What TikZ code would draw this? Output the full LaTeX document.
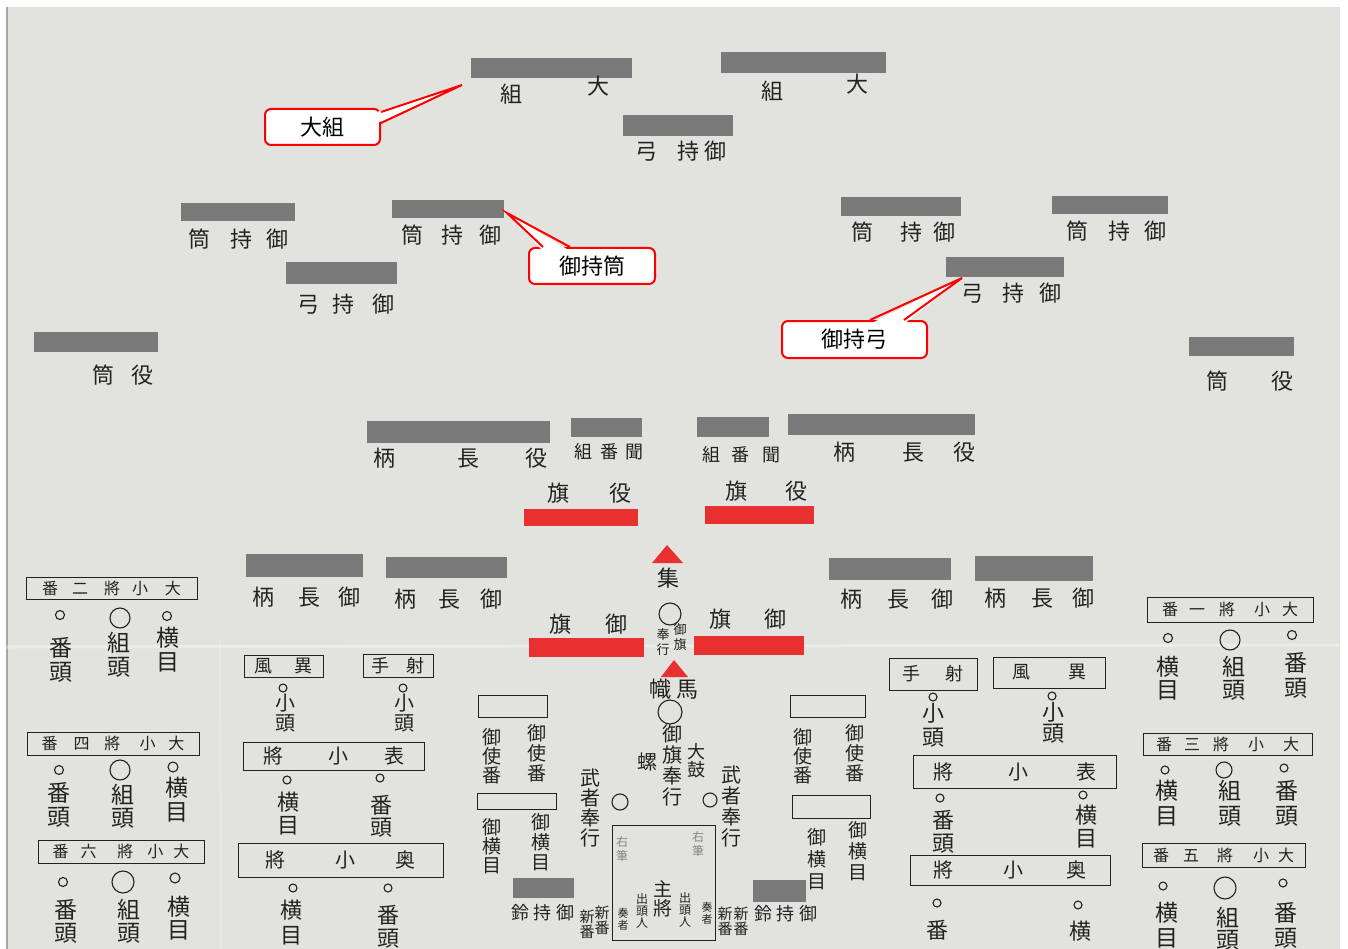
\documentclass[tikz,border=0pt]{standalone}
\usepackage{fontspec}
\newfontfamily\jpfont{Noto Sans CJK JP}
\usepackage{tikz}
\usetikzlibrary{calc}

\definecolor{paper}{RGB}{226,226,223}
\definecolor{ink}{RGB}{34,34,34}
\definecolor{barg}{RGB}{122,122,122}
\definecolor{flagred}{RGB}{232,48,48}
\definecolor{callred}{RGB}{255,0,0}

\begin{document}
\begin{tikzpicture}[
  x=1pt, y=-1pt,
  hz/.style={font=\jpfont\fontsize{#1}{#1}\selectfont, inner sep=0pt, text=ink},
  hz/.default=22,
  vt/.style 2 args={font=\jpfont\fontsize{#1}{#2}\selectfont, align=center,
    inner sep=0pt, text=ink},
  rankbox/.style={draw=ink, line width=0.8pt, inner sep=0pt, text=ink,
    font=\jpfont\fontsize{#1}{#1}\selectfont},
  rankbox/.default=16,
  plainbox/.style={draw=ink, line width=0.8pt},
  ring/.style={circle, draw=ink, line width=1.1pt, inner sep=0pt, minimum size=#1},
  inkbar/.style={fill=barg},
  redbar/.style={fill=flagred},
  labelbox/.style={draw=callred, line width=2pt, fill=white, rounded corners=6pt,
    inner sep=0pt, font=\jpfont\fontsize{22}{22}\selectfont},
  pointer/.style={draw=callred, line width=2pt, line join=miter}
]
\useasboundingbox (0,0) rectangle (1348,949);

% Paper
\fill[white] (0,0) rectangle (1348,949);
\fill[paper] (6,7) rectangle (1340,949);
\draw[black!35, line width=1.5pt] (7,7) -- (7,949);
\draw[white, opacity=0.35, line width=3pt] (6,647) -- (1340,645);
\draw[white, opacity=0.2, line width=2pt] (220,640) -- (221,949);

% Grey bars
\fill[inkbar] (471,58) rectangle (632,78);
\fill[inkbar] (721,52) rectangle (886,73);
\fill[inkbar] (623,115) rectangle (733,136);
\fill[inkbar] (181,203) rectangle (295,221);
\fill[inkbar] (392,200) rectangle (504,218);
\fill[inkbar] (286,262) rectangle (397,284);
\fill[inkbar] (841,197) rectangle (961,216);
\fill[inkbar] (1052,196) rectangle (1168,214);
\fill[inkbar] (946,257) rectangle (1064,277);
\fill[inkbar] (34,332) rectangle (158,352);
\fill[inkbar] (1189,337) rectangle (1294,356);
\fill[inkbar] (367,421) rectangle (550,443);
\fill[inkbar] (571,418) rectangle (642,437);
\fill[inkbar] (697,417) rectangle (769,437);
\fill[inkbar] (788,414) rectangle (975,435);
\fill[inkbar] (246,554) rectangle (363,577);
\fill[inkbar] (386,557) rectangle (507,578);
\fill[inkbar] (829,558) rectangle (951,580);
\fill[inkbar] (975,556) rectangle (1093,581);
\fill[inkbar] (513,878) rectangle (574,898);
\fill[inkbar] (753,880) rectangle (806,902);

% Red flag bars
\fill[redbar] (524,509) rectangle (638,526);
\fill[redbar] (705,506) rectangle (814,524);
\fill[redbar] (529,638) rectangle (644,657);
\fill[redbar] (694,636) rectangle (804,655);

% Top rows
\node[hz] (a1-kumi) at (511,94) {組};
\node[hz] (a1-dai) at (598,86) {大};
\node[hz] (a2-kumi) at (772,91) {組};
\node[hz] (a2-dai) at (857,84) {大};
\node[hz] (b-yumi) at (681,151) {弓\hspace{20pt}持\hspace{6pt}御};
\node[hz] (c1-tsutsu) at (238.5,239) {筒\hspace{21pt}持\hspace{14pt}御};
\node[hz] (c2-tsutsu) at (451.5,235) {筒\hspace{19pt}持\hspace{16pt}御};
\node[hz] (d-yumi) at (346,304) {弓\hspace{14pt}持\hspace{18pt}御};
\node[hz] (c3-tsutsu) at (903.5,232) {筒\hspace{27pt}持\hspace{12pt}御};
\node[hz] (c4-tsutsu) at (1116,231) {筒\hspace{20pt}持\hspace{14pt}御};
\node[hz] (e-yumi) at (1011,293) {弓\hspace{19pt}持\hspace{15pt}御};
\node[hz] (f1-yaku) at (123,375) {筒\hspace{18pt}役};
\node[hz] (f2-yaku) at (1249.5,381) {筒\hspace{43pt}役};

% Middle rows
\node[hz] (g1-nagae) at (460,458) {柄\hspace{62pt}長\hspace{46pt}役};
\node[hz=18] (g2-kikiban) at (609,452) {組\hspace{8pt}番\hspace{8pt}聞};
\node[hz=18] (g3-kikiban) at (741,455) {組\hspace{12pt}番\hspace{12pt}聞};
\node[hz] (g4-nagae) at (904,452) {柄\hspace{47pt}長\hspace{29pt}役};
\node[hz] (hata-l) at (589,493) {旗\hspace{40pt}役};
\node[hz] (hata-r) at (766.5,491) {旗\hspace{39pt}役};

\node[hz] (i1-nagae) at (306.5,597) {柄\hspace{25pt}長\hspace{18pt}御};
\node[hz] (i2-nagae) at (448.5,599) {柄\hspace{23pt}長\hspace{20pt}御};
\node[hz] (i3-nagae) at (896.5,599) {柄\hspace{25pt}長\hspace{22pt}御};
\node[hz] (i4-nagae) at (1039,598) {柄\hspace{26pt}長\hspace{18pt}御};

% Centre column
\fill[redbar] (652,563) -- (667,545) -- (683,563) -- cycle;
\node[hz] (atsume) at (668,578) {集};
\node[ring=22pt] (o-top) at (670,614) {};
\node[vt={13}{15}] (mihata-a) at (680,637.5) {御\\旗};
\node[vt={13}{15}] (bugyo-a) at (663,642.5) {奉\\行};
\node[hz] (hata-l2) at (588.5,624) {旗\hspace{35pt}御};
\node[hz] (hata-r2) at (747.5,619) {旗\hspace{33pt}御};
\fill[redbar] (661,677) -- (674,660) -- (688,677) -- cycle;
\node[hz] (nobori) at (674,689) {幟\hspace{6pt}馬};
\node[ring=24pt] (o-mid) at (670,712) {};
\node[vt={20}{21}] (hatabugyo) at (672,765) {御\\旗\\奉\\行};
\node[hz=20] (hora) at (647,762) {螺};
\node[vt={18}{18}] (taiko) at (696,761) {大\\鼓};
\node[vt={20}{20}] (musha-l) at (590,808) {武\\者\\奉\\行};
\node[vt={20}{21}] (musha-r) at (731,806.5) {武\\者\\奉\\行};
\node[ring=16pt] (o-l) at (620,802) {};
\node[ring=14pt] (o-r) at (710,800) {};

% Left of centre
\draw[plainbox] (478,695) rectangle (547,717);
\node[vt={19}{19}] (tsukai-l1) at (492,756.5) {御\\使\\番};
\node[vt={19}{20}] (tsukai-l2) at (537,753) {御\\使\\番};
\draw[plainbox] (477,793) rectangle (556,809);
\node[vt={19}{19}] (yokome-l1) at (492,846) {御\\横\\目};
\node[vt={19}{20}] (yokome-l2) at (541,842.5) {御\\横\\目};
\node[hz=18] (suzu-l) at (542.5,913) {鈴\hspace{5pt}持\hspace{4pt}御};
\node[vt={15}{15}] (shin-l1) at (587,924.5) {新\\番};
\node[vt={15}{15}] (shin-l2) at (602,920) {新\\番};

% Right of centre
\draw[plainbox] (790,695) rectangle (865,717);
\node[vt={19}{19}] (tsukai-r1) at (803,756) {御\\使\\番};
\node[vt={19}{20}] (tsukai-r2) at (855,753) {御\\使\\番};
\draw[plainbox] (792,795) rectangle (870,818);
\node[vt={19}{22}] (yokome-r1) at (817,859.5) {御\\横\\目};
\node[vt={19}{21}] (yokome-r2) at (858,851.5) {御\\横\\目};
\node[hz=18] (suzu-r) at (785.5,914) {鈴\hspace{4pt}持\hspace{5pt}御};
\node[vt={15}{15}] (shin-r1) at (725,921.5) {新\\番};
\node[vt={15}{15}] (shin-r2) at (741,921.5) {新\\番};

% Commander's box
\draw[plainbox] (612,825) rectangle (715,940);
\node[vt={12}{14}, text=ink!55] (yuhitsu-l) at (622,849) {右\\筆};
\node[vt={12}{14}, text=ink!55] (yuhitsu-r) at (698,843.5) {右\\筆};
\node[vt={19}{19}] (shusho) at (663,899) {主\\將};
\node[vt={12}{12}] (shuto-l) at (642,911) {出\\頭\\人};
\node[vt={12}{12}] (shuto-r) at (685,909.5) {出\\頭\\人};
\node[vt={11}{12}] (sosha-l) at (623,919) {奏\\者};
\node[vt={11}{12}] (sosha-r) at (707,913.5) {奏\\者};

% Left wing: daishosho 2, 4, 6
\node[rankbox, minimum width=171pt, minimum height=22pt] (sho2) at (111.5,588)
  {番\hspace{14pt}二\hspace{16pt}將\hspace{12pt}小\hspace{17pt}大};
\node[ring=9pt] (sho2-a) at (60,615) {};
\node[ring=20pt] (sho2-b) at (120,618) {};
\node[ring=9pt] (sho2-c) at (167,616) {};
\node[vt={23}{24}] (sho2-ban) at (61,660) {番\\頭};
\node[vt={23}{24}] (sho2-kumi) at (119,655) {組\\頭};
\node[vt={23}{24}] (sho2-yoko) at (168,650) {横\\目};

\node[rankbox, minimum width=172pt, minimum height=23pt] (sho4) at (113,743.5)
  {番\hspace{16pt}四\hspace{15pt}將\hspace{19pt}小\hspace{13pt}大};
\node[ring=9pt] (sho4-a) at (59,770) {};
\node[ring=20pt] (sho4-b) at (120,770) {};
\node[ring=10pt] (sho4-c) at (173,767) {};
\node[vt={23}{24}] (sho4-ban) at (59,805) {番\\頭};
\node[vt={23}{23}] (sho4-kumi) at (123,806.5) {組\\頭};
\node[vt={23}{24}] (sho4-yoko) at (177,800) {横\\目};

\node[rankbox, minimum width=166pt, minimum height=23pt] (sho6) at (121,851.5)
  {番\hspace{12pt}六\hspace{21pt}將\hspace{14pt}小\hspace{10pt}大};
\node[ring=9pt] (sho6-a) at (63,882) {};
\node[ring=22pt] (sho6-b) at (123,882) {};
\node[ring=10pt] (sho6-c) at (175,878) {};
\node[vt={23}{23}] (sho6-ban) at (66,921.5) {番\\頭};
\node[vt={23}{23}] (sho6-kumi) at (129,921.5) {組\\頭};
\node[vt={23}{23}] (sho6-yoko) at (179,918.5) {横\\目};

% Left inner: ifu, shate, omote, oku
\node[rankbox=18, minimum width=79pt, minimum height=22pt] (ifu-l) at (283.5,666) {風\hspace{22pt}異};
\node[rankbox=18, minimum width=70pt, minimum height=23pt] (shate-l) at (398,665.5) {手\hspace{17pt}射};
\node[ring=8pt] (ifu-l-o) at (283,688) {};
\node[vt={20}{20}] (ifu-l-ko) at (285,713) {小\\頭};
\node[ring=8pt] (shate-l-o) at (403,688) {};
\node[vt={20}{20}] (shate-l-ko) at (404,713) {小\\頭};
\node[rankbox=20, minimum width=181pt, minimum height=28pt] (omote-l) at (333.5,756) {將\hspace{45pt}小\hspace{36pt}表};
\node[ring=8pt] (omote-l-a) at (287,780) {};
\node[vt={22}{23}] (omote-l-yoko) at (288,813.5) {横\\目};
\node[ring=8pt] (omote-l-b) at (380,778) {};
\node[vt={22}{22}] (omote-l-ban) at (381,816) {番\\頭};
\node[rankbox=20, minimum width=205pt, minimum height=34pt] (oku-l) at (340.5,860) {將\hspace{50pt}小\hspace{40pt}奥};
\node[ring=8pt] (oku-l-a) at (293,888) {};
\node[vt={22}{25}] (oku-l-yoko) at (291,922.5) {横\\目};
\node[ring=8pt] (oku-l-b) at (388,888) {};
\node[vt={22}{23}] (oku-l-ban) at (388,926.5) {番\\頭};

% Right inner: shate, ifu, omote, oku
\node[rankbox=18, minimum width=88pt, minimum height=32pt] (shate-r) at (933,674) {手\hspace{25pt}射};
\node[rankbox=18, minimum width=112pt, minimum height=31pt] (ifu-r) at (1049,672.5) {風\hspace{38pt}異};
\node[ring=8pt] (shate-r-o) at (933,697) {};
\node[vt={22}{24}] (shate-r-ko) at (933,725) {小\\頭};
\node[ring=8pt] (ifu-r-o) at (1052,696) {};
\node[vt={22}{21}] (ifu-r-ko) at (1053,722.5) {小\\頭};
\node[rankbox=20, minimum width=203pt, minimum height=33pt] (omote-r) at (1014.5,771.5) {將\hspace{55pt}小\hspace{48pt}表};
\node[ring=8pt] (omote-r-a) at (940,798) {};
\node[vt={22}{23}] (omote-r-ban) at (943,831.5) {番\\頭};
\node[ring=8pt] (omote-r-b) at (1083,795) {};
\node[vt={22}{23}] (omote-r-yoko) at (1086,826.5) {横\\目};
\node[rankbox=20, minimum width=200pt, minimum height=30pt] (oku-r) at (1010,870) {將\hspace{50pt}小\hspace{43pt}奥};
\node[ring=8pt] (oku-r-a) at (937,903) {};
\node[hz] (oku-r-ban) at (937,930) {番};
\node[ring=8pt] (oku-r-b) at (1078,905) {};
\node[hz] (oku-r-yoko) at (1080,931) {横};

% Right wing: daishosho 1, 3, 5
\node[rankbox, minimum width=166pt, minimum height=25pt] (sho1) at (1230,609.5)
  {番\hspace{11pt}一\hspace{14pt}將\hspace{19pt}小\hspace{12pt}大};
\node[ring=9pt] (sho1-a) at (1168,638) {};
\node[ring=20pt] (sho1-b) at (1230,640) {};
\node[ring=9pt] (sho1-c) at (1292,635) {};
\node[vt={23}{23}] (sho1-yoko) at (1168,678.5) {横\\目};
\node[vt={23}{23}] (sho1-kumi) at (1234,678.5) {組\\頭};
\node[vt={23}{25}] (sho1-ban) at (1296,675.5) {番\\頭};

\node[rankbox, minimum width=169pt, minimum height=22pt] (sho3) at (1227.5,744)
  {番\hspace{12pt}三\hspace{13pt}將\hspace{19pt}小\hspace{19pt}大};
\node[ring=8pt] (sho3-a) at (1165,770) {};
\node[ring=16pt] (sho3-b) at (1224,770) {};
\node[ring=8pt] (sho3-c) at (1284,768) {};
\node[vt={23}{25}] (sho3-yoko) at (1167,803.5) {横\\目};
\node[vt={23}{25}] (sho3-kumi) at (1230,803.5) {組\\頭};
\node[vt={23}{25}] (sho3-ban) at (1287,803.5) {番\\頭};

\node[rankbox, minimum width=163pt, minimum height=24pt] (sho5) at (1223.5,855)
  {番\hspace{14pt}五\hspace{18pt}將\hspace{20pt}小\hspace{9pt}大};
\node[ring=8pt] (sho5-a) at (1163,886) {};
\node[ring=22pt] (sho5-b) at (1225,888) {};
\node[ring=8pt] (sho5-c) at (1283,883) {};
\node[vt={23}{25}] (sho5-yoko) at (1167,925.5) {横\\目};
\node[vt={23}{22}] (sho5-kumi) at (1228,929) {組\\頭};
\node[vt={23}{25}] (sho5-ban) at (1286,925.5) {番\\頭};

% Callouts
\coordinate (tip-okumi) at (462,85);
\node[labelbox, minimum width=115pt, minimum height=36pt] (okumi) at (322.5,127) {大組};
\fill[white] ($(okumi.east)+(-4,-15)$) -- (tip-okumi) -- ($(okumi.east)+(-4,-4)$) -- cycle;
\draw[pointer] ($(okumi.east)+(0,-15)$) -- (tip-okumi) -- ($(okumi.east)+(0,-4)$);

\coordinate (tip-zutsu) at (507,213);
\node[labelbox, minimum width=126pt, minimum height=36pt] (mochizutsu) at (592,266) {御持筒};
\fill[white] ($(mochizutsu.north)+(-49,4)$) -- (tip-zutsu) -- ($(mochizutsu.north)+(-22,4)$) -- cycle;
\draw[pointer] ($(mochizutsu.north)+(-49,0)$) -- (tip-zutsu) -- ($(mochizutsu.north)+(-22,0)$);

\coordinate (tip-yumi) at (962,278);
\node[labelbox, minimum width=145pt, minimum height=37pt] (mochiyumi) at (854.5,339.5) {御持弓};
\fill[white] ($(mochiyumi.north)+(15.5,4)$) -- (tip-yumi) -- ($(mochiyumi.north)+(49.5,4)$) -- cycle;
\draw[pointer] ($(mochiyumi.north)+(15.5,0)$) -- (tip-yumi) -- ($(mochiyumi.north)+(49.5,0)$);

\end{tikzpicture}
\end{document}
